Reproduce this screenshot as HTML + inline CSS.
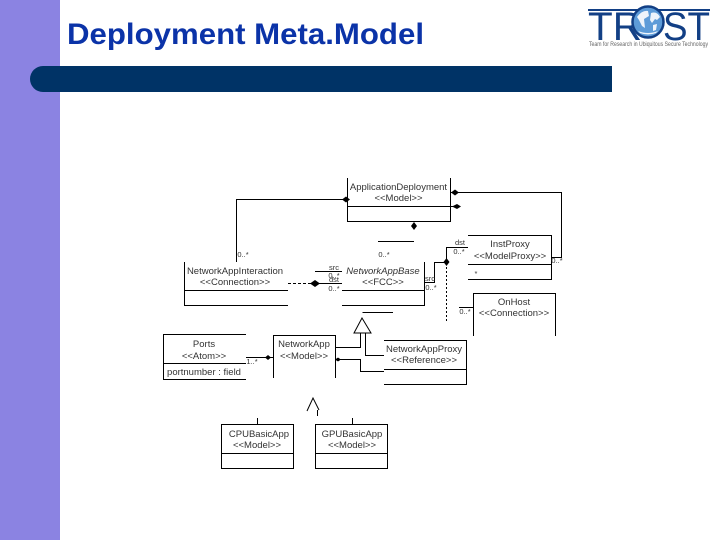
<!DOCTYPE html>
<html><head><meta charset="utf-8"><style>
html,body{margin:0;padding:0;background:#fff;width:720px;height:540px;overflow:hidden}
svg{display:block}
.t{font-family:"Liberation Sans",sans-serif;font-size:9.5px;fill:#333;text-anchor:middle}
.s{font-family:"Liberation Sans",sans-serif;font-size:7.5px;fill:#333;text-anchor:middle}
.l{stroke:#000;stroke-width:1;fill:none}
</style></head><body>
<svg width="720" height="540" viewBox="0 0 720 540" xmlns="http://www.w3.org/2000/svg">
<rect x="0" y="0" width="720" height="540" fill="#fff"/>
<rect x="0" y="0" width="60" height="540" fill="#8b83e2"/>
<path d="M612 66H43a13 13 0 0 0 0 26H612Z" fill="#003366"/>
<text x="67" y="44" font-family="Liberation Sans,sans-serif" font-weight="700" font-size="30" fill="#0b33a8" textLength="357" lengthAdjust="spacingAndGlyphs">Deployment Meta.Model</text>

<!-- logo -->
<g fill="#123f85">
<rect x="588" y="9" width="122" height="2"/>
<text x="588" y="40" font-family="Liberation Sans,sans-serif" font-size="40" textLength="54" lengthAdjust="spacingAndGlyphs">TR</text>
<text x="663" y="40" font-family="Liberation Sans,sans-serif" font-size="40" textLength="47" lengthAdjust="spacingAndGlyphs">ST</text>
</g>
<circle cx="648" cy="22" r="15.500" fill="#5d9bd8" stroke="#123f85" stroke-width="2.500"/>
<path d="M637 17q5-7 11-6l1 5-5 3 1 9-3-2-3-6ZM651 13q6-2 9 4l-3 3-2-1-3 4-2-3ZM653 25l4-1-1 6-3 1ZM638 31q10 4 20 0l-2 2q-8 3-16 0Z" fill="#eef4fb"/>
<text x="648.500" y="46" text-anchor="middle" font-family="Liberation Sans,sans-serif" font-size="6.600" fill="#666" textLength="119" lengthAdjust="spacingAndGlyphs">Team for Research in Ubiquitous Secure Technology</text>

<!-- diagram boxes -->
<g class="l" shape-rendering="crispEdges">
<path class="l" d="M347.500 178V221.500H450.500V178M347.500 206.500H450.500"/>
<path class="l" d="M184.500 262V305.500H288M184.500 290.500H288"/>
<path class="l" d="M342 290.500H424.500M342 305.500H424.500V262"/>
<path class="l" d="M468 235.500H551.500V279.500H468M468 264.500H551.500"/>
<path class="l" d="M473.500 336V293.500H555.500V336"/>
<path class="l" d="M246 334.500H163.500V379.500H246M163.500 363.500H246"/>
<path class="l" d="M273.500 378V335.500H335.500V378"/>
<path class="l" d="M384 340.500H466.500V384.500H384M384 369.500H466.500"/>
<rect class="l" x="221.500" y="424.500" width="72" height="44"/>
<path class="l" d="M221.500 453.500H293.500"/>
<rect class="l" x="315.500" y="424.500" width="72" height="44"/>
<path class="l" d="M315.500 453.500H387.500"/>
<!-- connectors -->
<path class="l" d="M236.500 262V199.500H347"/>
<path class="l" d="M450 192.500H561.500V257.500H551"/>
<path class="l" d="M450 206.500H458"/>
<path class="l" d="M378 241.500H414"/>
<path class="l" d="M315 271.500H342M315 283.500H342"/>
<path class="l" d="M288 283.500H314" stroke-dasharray="3 2"/>
<path class="l" d="M424 282.500H434.500V262.500H446.500V247.500H468"/>
<path class="l" d="M446.500 263V322" stroke-dasharray="2 2"/>
<path class="l" d="M459 307.500H473"/>
<path class="l" d="M362.500 312.500H393"/>
<path class="l" d="M360.500 333V347.500H335.500"/>
<path class="l" d="M365.500 333V355.500H384"/>
<path class="l" d="M335.500 359.500H360.500V371.500H384"/>
<path class="l" d="M246 357.500H273"/>
<path class="l" d="M317.500 410V416"/>
<path class="l" d="M257.500 418V424M352.500 418V424"/>
</g>
<path d="M362 318L354 333H371Z" fill="#fff" stroke="#000"/>
<path d="M307 411L313 398L319 410" fill="none" stroke="#000"/>
<g fill="#000">
<path d="M342 199.500l4-3 4 3-4 3Z"/>
<path d="M451 192.500l4-3 4 3-4 3Z"/>
<path d="M452 206.500l5-2.500 4 2.500-4 2.500Z"/>
<path d="M414 222l3 4-3 4-3-4Z"/>
<path d="M310 283.500l5-3.500 5 3.500-5 3.500Z"/>
<path d="M446.500 258l3 4-3 4-3-4Z"/>
<path d="M265 357.500l3-2.500 3 2.500-3 2.500Z"/>
<circle cx="338" cy="359.500" r="1.800"/>
</g>

<!-- labels -->
<text class="t" x="398.500" y="190">ApplicationDeployment</text>
<text class="t" x="398.500" y="201">&lt;&lt;Model&gt;&gt;</text>
<text class="t" x="235" y="274">NetworkAppInteraction</text>
<text class="t" x="235" y="285">&lt;&lt;Connection&gt;&gt;</text>
<text class="t" x="383" y="274" font-style="italic">NetworkAppBase</text>
<text class="t" x="383" y="285">&lt;&lt;FCC&gt;&gt;</text>
<text class="t" x="510" y="247">InstProxy</text>
<text class="t" x="510" y="259">&lt;&lt;ModelProxy&gt;&gt;</text>
<text class="t" x="514" y="305">OnHost</text>
<text class="t" x="514" y="316">&lt;&lt;Connection&gt;&gt;</text>
<text class="t" x="204" y="347">Ports</text>
<text class="t" x="204" y="359">&lt;&lt;Atom&gt;&gt;</text>
<text class="t" x="204" y="375">portnumber : field</text>
<text class="t" x="304" y="347">NetworkApp</text>
<text class="t" x="304" y="359">&lt;&lt;Model&gt;&gt;</text>
<text class="t" x="424" y="352">NetworkAppProxy</text>
<text class="t" x="424" y="363">&lt;&lt;Reference&gt;&gt;</text>
<text class="t" x="259" y="437">CPUBasicApp</text>
<text class="t" x="257" y="448">&lt;&lt;Model&gt;&gt;</text>
<text class="t" x="352" y="437">GPUBasicApp</text>
<text class="t" x="352" y="448">&lt;&lt;Model&gt;&gt;</text>

<text class="s" x="243" y="257">0..*</text>
<text class="s" x="384" y="257">0..*</text>
<text class="s" x="334" y="270">src</text>
<text class="s" x="334" y="278">0..*</text>
<text class="s" x="334" y="282">dst</text>
<text class="s" x="334" y="291">0..*</text>
<text class="s" x="430" y="281">src</text>
<text class="s" x="431" y="290">0..*</text>
<text class="s" x="460" y="245">dst</text>
<text class="s" x="459" y="254">0..*</text>
<text class="s" x="557" y="263">0..*</text>
<text class="s" x="476" y="276">*</text>
<text class="s" x="465" y="314">0..*</text>
<text class="s" x="252" y="364">1..*</text>
</svg>
</body></html>
